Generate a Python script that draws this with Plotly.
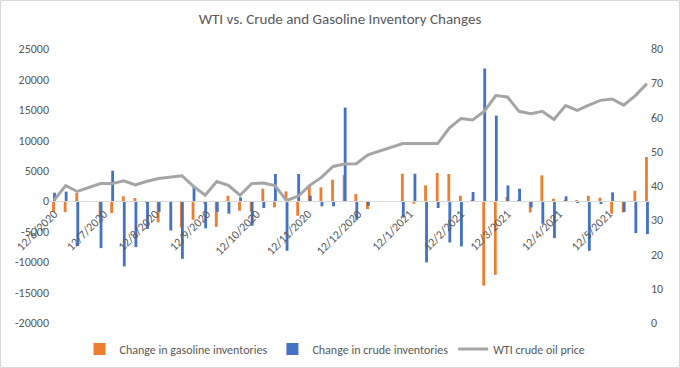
import plotly.graph_objects as go

dates = [
    "2020-06-12", "2020-06-19", "2020-06-26", "2020-07-10", "2020-07-17", "2020-07-24",
    "2020-07-31", "2020-08-07", "2020-08-14", "2020-08-21", "2020-08-28", "2020-09-04",
    "2020-09-11", "2020-09-18", "2020-09-25", "2020-10-02", "2020-10-09", "2020-10-16",
    "2020-10-23", "2020-10-30", "2020-11-06", "2020-11-13", "2020-11-20", "2020-11-27",
    "2020-12-04", "2020-12-11", "2020-12-18", "2021-01-08", "2021-01-15", "2021-01-22",
    "2021-01-29", "2021-02-05", "2021-02-12", "2021-02-19", "2021-02-26", "2021-03-05",
    "2021-03-12", "2021-03-19", "2021-03-26", "2021-04-02", "2021-04-09", "2021-04-16",
    "2021-04-23", "2021-04-30", "2021-05-07", "2021-05-14", "2021-05-21", "2021-05-28",
    "2021-06-04",
]

gasoline = [
    -1750, -1800, 1350, -2500, -1950, 800,
    520, -300, -3480, -100, -4300, -3040,
    -400, -4200, 900, -1560, -1670, 2060,
    -1010, 1620, -2390, 2710, 2280, 3540,
    4300, 1180, -1290, 4520, -410, 2600,
    4630, 4470, 900, 250, -13850, -12080,
    690, 250, -1840, 4250, 410, 100,
    100, 900, 580, -2050, -1840, 1730,
    7270,
]

crude = [
    1400, 1580, -7350, -7700, 5020, -10700,
    -7540, -4550, -1750, -4800, -9450, 2400,
    -4450, -1750, -2050, 630, -4030, -1120,
    4470, -8140, 4470, 900, -850, -850,
    15380, -3040, -740, -2660, 4520, -10050,
    -1120, -6770, -7430, 1510, 21800, 14060,
    2600, 2060, -1010, -3700, -6060, 800,
    -200, -8140, -470, 1450, -1730, -5240,
    -5400,
]

wti = [
    35.8, 40.1, 38.4, 40.7, 40.7, 41.5,
    40.3, 41.4, 42.2, 42.5, 43.0, 39.9,
    37.3, 41.3, 40.2, 37.3, 40.7, 40.9,
    40.1, 35.8, 37.0, 40.2, 42.5, 45.7,
    46.4, 46.5, 49.1, 52.4, 52.4, 52.4,
    52.4, 56.9, 59.7, 59.3, 61.8, 66.4,
    66.0, 61.8, 61.1, 61.8, 59.4, 63.5,
    62.1, 63.6, 65.0, 65.4, 63.6, 66.4,
    69.9,
]

tick_dates = [
    "2020-06-12", "2020-07-12", "2020-08-12", "2020-09-12", "2020-10-12", "2020-11-12",
    "2020-12-12", "2021-01-12", "2021-02-12", "2021-03-12", "2021-04-12", "2021-05-12",
]
tick_text = [
    "12/6/2020", "12/7/2020", "12/8/2020", "12/9/2020", "12/10/2020", "12/11/2020",
    "12/12/2020", "12/1/2021", "12/2/2021", "12/3/2021", "12/4/2021", "12/5/2021",
]
left_ticks = [-20000, -15000, -10000, -5000, 0, 5000, 10000, 15000, 20000, 25000]
left_text = ["-20000", "-15000", "-10000", "-5000", "0", "5000", "10000", "15000", "20000", "25000"]
right_ticks = [0, 10, 20, 30, 40, 50, 60, 70, 80]

DAY = 86400000
FONT = "Calibri, Carlito, Lato, sans-serif"
TXT = "#595959"

fig = go.Figure()
fig.add_trace(go.Bar(
    x=dates, y=gasoline, name="Change in gasoline inventories",
    marker=dict(color="#ED7D31", line=dict(width=0)),
    width=1.7 * DAY, offset=-1.15 * DAY,
))
fig.add_trace(go.Bar(
    x=dates, y=crude, name="Change in crude inventories",
    marker=dict(color="#4472C4", line=dict(width=0)),
    width=1.7 * DAY, offset=-0.55 * DAY,
))
fig.add_trace(go.Scatter(
    x=dates, y=wti, name="WTI crude oil price", mode="lines",
    line=dict(color="#A5A5A5", width=3), yaxis="y2",
))

W, H = 680, 368
ml, mr, mt, mb = 50, 30, 49, 45
pw, ph = W - ml - mr, H - mt - mb

fig.update_layout(
    width=W, height=H,
    margin=dict(l=ml, r=mr, t=mt, b=mb, autoexpand=False),
    paper_bgcolor="white", plot_bgcolor="white",
    barmode="overlay",
    font=dict(family=FONT, size=12, color=TXT),
    title=dict(text="WTI vs. Crude and Gasoline Inventory Changes",
               x=0.5, xanchor="center", y=1 - 19 / H, yanchor="middle",
               font=dict(family=FONT, size=15, color=TXT)),
    xaxis=dict(
        type="date", range=["2020-06-09 14:00", "2021-06-05 20:00"],
        anchor="free", position=20000 / 45000, automargin=False,
        showline=True, linecolor="#D9D9D9", linewidth=1,
        showgrid=False, zeroline=False, ticks="",
        tickmode="array", tickvals=tick_dates, ticktext=tick_text,
        tickangle=-45, tickfont=dict(family=FONT, size=12, color=TXT),
    ),
    yaxis=dict(
        range=[-20000, 25000], tickmode="array", tickvals=left_ticks, ticktext=left_text,
        showgrid=False, zeroline=False, showline=False, ticks="", automargin=False,
        tickfont=dict(family=FONT, size=12, color=TXT),
    ),
    yaxis2=dict(
        range=[0, 80], overlaying="y", side="right", tickmode="array", tickvals=right_ticks,
        showgrid=False, zeroline=False, showline=False, ticks="", automargin=False,
        tickfont=dict(family=FONT, size=12, color=TXT),
    ),
    legend=dict(
        orientation="h", x=0.475, xanchor="center", y=-26 / ph, yanchor="middle",
        font=dict(family=FONT, size=12, color=TXT), traceorder="normal",
        bgcolor="rgba(0,0,0,0)",
    ),
    showlegend=True,
)

fig.add_shape(
    type="rect", xref="paper", yref="paper",
    x0=(0.5 - ml) / pw, x1=(W - 0.5 - ml) / pw,
    y0=-(mb - 0.5) / ph, y1=1 + (mt - 0.5) / ph,
    line=dict(color="#D9D9D9", width=1), fillcolor="rgba(0,0,0,0)", layer="below",
)

fig.write_html(
    "out.html",
    config={"displayModeBar": False},
    post_script="document.body.style.margin='0';document.body.style.overflow='hidden';",
)
